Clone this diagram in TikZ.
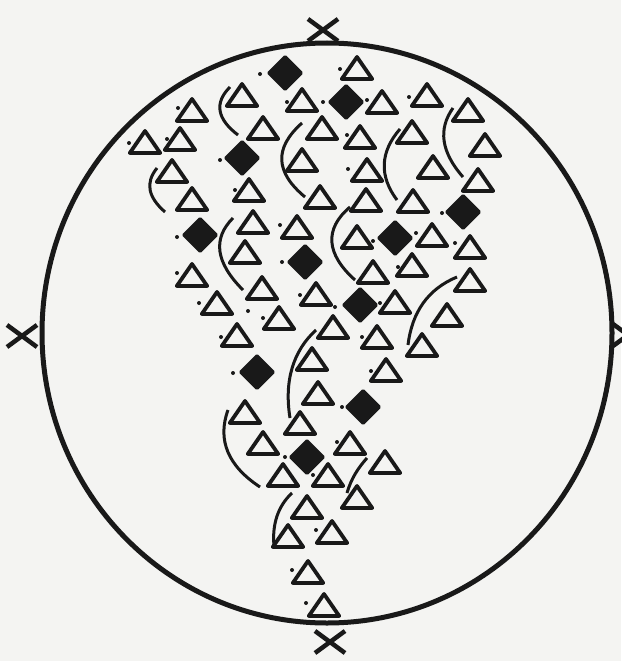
\documentclass[tikz,border=0pt]{standalone}
\definecolor{paper}{RGB}{244,244,242}
\definecolor{ink}{RGB}{25,25,25}
\tikzset{
  tri/.pic={\draw[ink,line width=3.8pt,line join=round] (0,-11) -- (15.2,11) -- (-15.2,11) -- cycle;},
  dmd/.pic={\fill[ink,rounded corners=1.5pt] (0,-18.5) -- (18.5,0) -- (0,18.5) -- (-18.5,0) -- cycle;},
  xmark/.pic={\draw[ink,line width=4.5pt] (-15,-11) -- (15,11) (-15,11) -- (15,-11);},
  bow/.style={ink,line width=3pt}
}
\begin{document}
\begin{tikzpicture}[x=1pt,y=-1pt]
  \useasboundingbox (0,0) rectangle (621,661);
  \fill[paper] (0,0) rectangle (621,661);
  \draw[ink,line width=5pt] (327,333) ellipse (285pt and 290pt);
  \foreach \x/\y in {323/30,330/642,22/336,628/335} \pic at (\x,\y) {xmark};
  \foreach \x/\y in {357/68,242/95,302/100,382/102,427/95,192/110,468/110,263/128,322/128,360/137,
    412/132,485/145,145/142,180/139,302/160,172/171,367/170,433/167,478/180,192/199,249/190,
    320/197,366/200,413/201,253/222,297/227,357/237,432/235,470/247,245/252,373/272,412/265,
    470/280,192/275,262/288,316/294,395/302,217/303,279/318,447/315,333/327,237/335,377/337,
    422/345,312/359,318/393,386/370,245/412,300/423,263/443,350/443,385/462,283/475,328/475,
    357/497,307/507,288/536,332/532,308/572,324/605}
    \pic at (\x,\y) {tri};
  \foreach \x/\y in {285/73,346/102,242/158,463/212,200/235,395/238,305/262,360/305,257/372,
    363/407,307/457}
    \pic at (\x,\y) {dmd};
  \foreach \x/\y in {260/74,340/69,287/102,323/102,367/100,409/97,178/108,347/135,129/143,167/139,
    220/160,348/169,235/190,442/213,177/237,280/225,373/241,416/233,455/243,282/262,398/267,
    177/273,300/295,335/307,380/303,199/303,263/318,248/311,221/337,362/337,233/373,371/371,
    342/407,337/442,285/457,313/475,316/530,292/570,306/603}
    \fill[ink] (\x,\y) circle (2pt);
  \draw[bow] (230,87) .. controls (214,103) and (217,119) .. (238,135);
  \draw[bow] (453,108) .. controls (438,129) and (441,152) .. (463,177);
  \draw[bow] (400,129) .. controls (380,152) and (379,176) .. (397,200);
  \draw[bow] (302,123) .. controls (274,148) and (275,172) .. (305,197);
  \draw[bow] (157,168) .. controls (145,183) and (148,197) .. (165,212);
  \draw[bow] (233,218) .. controls (212,239) and (216,263) .. (243,290);
  \draw[bow] (350,207) .. controls (324,229) and (326,254) .. (355,280);
  \draw[bow] (457,277) .. controls (428,289) and (412,312) .. (408,345);
  \draw[bow] (316,330) .. controls (293,351) and (284,381) .. (290,418);
  \draw[bow] (228,410) .. controls (217,440) and (228,466) .. (260,487);
  \draw[bow] (367,458) .. controls (358,468) and (351,479) .. (347,493);
  \draw[bow] (292,493) .. controls (278,506) and (272,524) .. (274,546);
\end{tikzpicture}
\end{document}
